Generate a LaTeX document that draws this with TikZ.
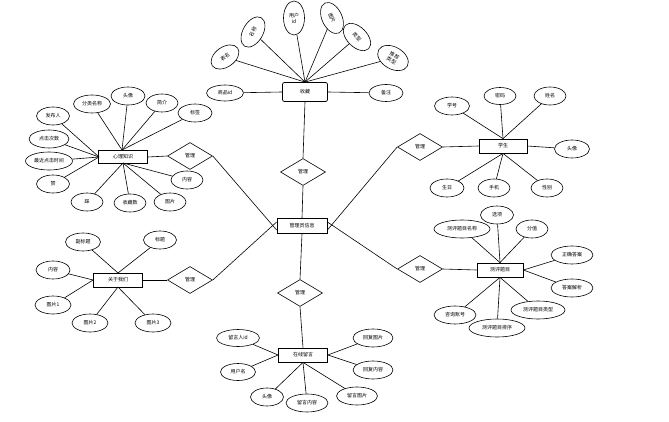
\documentclass[tikz,border=0pt]{standalone}
\usepackage{fontspec}
\newfontfamily\cjk{Noto Sans CJK SC}
\usetikzlibrary{shapes.geometric}
\begin{document}
\begin{tikzpicture}[x=1pt,y=-1pt,
  every node/.style={font=\cjk\fontsize{5}{6}\selectfont, inner sep=0pt},
  attr/.style={ellipse, draw, line width=0.6pt, minimum width=33, minimum height=18},
  ent/.style={rectangle, draw, line width=0.8pt, minimum width=48, minimum height=14},
  rel/.style={diamond, draw, line width=0.6pt, minimum width=45, minimum height=27, aspect=1.7},
  lk/.style={line width=0.6pt}]
\useasboundingbox (0,0) rectangle (669,422);
\fill[white] (0,0) rectangle (669,422);

% center
\node[ent, minimum width=50, minimum height=15] (c) at (302,226) {管理员信息};

% 收藏
\node[ent, rounded corners=2pt, minimum width=45, minimum height=19] (sc) at (305,92) {收藏};
\node[attr, minimum width=37, minimum height=16] (sc1) at (225,93) {商品id};
\node[attr, minimum width=34, minimum height=17] (sc2) at (386,93) {备注};
\node[attr, minimum width=31, minimum height=20, rotate=35] (sc3) at (225,57) {表名};
\node[attr, minimum width=33, minimum height=20, rotate=60] (sc4) at (253,32) {名称};
\node[attr, minimum width=21, minimum height=34, align=center] (sc5) at (294,18) {用户\\id};
\node[attr, minimum width=33, minimum height=20, rotate=-65] (sc6) at (332,18) {图片};
\node[attr, minimum width=33, minimum height=20, rotate=-45] (sc7) at (357,37) {类型};
\node[attr, minimum width=33, minimum height=22, rotate=-30, align=center] (sc8) at (393,58) {推荐\\类型};
\draw[lk] (sc1) -- (sc.west);
\draw[lk] (sc2) -- (sc.east);
\foreach \i in {3,...,8} \draw[lk] (sc\i) -- (sc.north);
\node[rel] (r1) at (303,172) {管理};
\draw[lk] (sc.south) -- (r1.north);
\draw[lk] (r1.south) -- (c.north);

% 心理知识
\node[ent, minimum width=49, minimum height=13] (xl) at (123,157) {心理知识};
\node[attr, minimum width=37] (xl1) at (92,104) {分类名称};
\node[attr, minimum width=34] (xl2) at (128,96) {头像};
\node[attr, minimum width=32] (xl3) at (162,103) {简介};
\node[attr, minimum width=34] (xl4) at (195,113) {标签};
\node[attr, minimum width=33] (xl5) at (53,116) {发布人};
\node[attr, minimum width=40] (xl6) at (49,139) {点击次数};
\node[attr, minimum width=47] (xl7) at (49,161) {最近点击时间};
\node[attr, minimum width=33] (xl8) at (53,184) {赞};
\node[attr, minimum width=32] (xl9) at (87,202) {踩};
\node[attr, minimum width=32] (xl10) at (130,203) {收藏数};
\node[attr, minimum width=32] (xl11) at (170,202) {图片};
\node[attr, minimum width=32] (xl12) at (187,180) {内容};
\coordinate (xlt) at (122,150);
\coordinate (xll) at (99,157);
\coordinate (xlb) at (123,163);
\foreach \i in {1,2,3,4} \draw[lk] (xl\i) -- (xlt);
\foreach \i in {5,6,7,8} \draw[lk] (xl\i) -- (xll);
\foreach \i in {9,10,11,12} \draw[lk] (xl\i) -- (xlb);
\node[rel] (r2) at (190,156) {管理};
\draw[lk] (xl.east) -- (r2.west);
\draw[lk] (r2.east) -- ([yshift=-4]c.west);

% 关于我们
\node[ent, minimum width=49] (gy) at (118,280) {关于我们};
\node[attr, minimum width=35] (gy1) at (83,242) {副标题};
\node[attr, minimum width=33] (gy2) at (160,240) {标题};
\node[attr, minimum width=34] (gy3) at (53,270) {内容};
\node[attr, minimum width=36] (gy4) at (53,305) {图片1};
\node[attr, minimum width=36] (gy5) at (90,323) {图片2};
\node[attr, minimum width=36] (gy6) at (153,323) {图片3};
\coordinate (gyt) at (118,273);
\coordinate (gyb) at (118,287);
\draw[lk] (gy1) -- (gyt);
\draw[lk] (gy2) -- (gyt);
\draw[lk] (gy3) -- (gy.west);
\draw[lk] (gy4) -- (gy.west);
\draw[lk] (gy5) -- (gyb);
\draw[lk] (gy6) -- (gyb);
\node[rel] (r3) at (190,280) {管理};
\draw[lk] (gy.east) -- (r3.west);
\draw[lk] (r3.east) -- ([yshift=4]c.west);

% 学生
\node[ent, minimum width=48] (xs) at (503,146) {学生};
\node[attr, minimum width=35] (xs1) at (452,106) {学号};
\node[attr, minimum width=32, minimum height=17] (xs2) at (500,96) {密码};
\node[attr, minimum width=32] (xs3) at (550,96) {姓名};
\node[attr, minimum width=35] (xs4) at (572,149) {头像};
\node[attr, minimum width=32] (xs5) at (547,188) {性别};
\node[attr, minimum width=32] (xs6) at (494,188) {手机};
\node[attr, minimum width=34] (xs7) at (447,188) {生日};
\foreach \i in {1,2,3} \draw[lk] (xs\i) -- (xs.north);
\draw[lk] (xs4) -- (xs.east);
\foreach \i in {5,6,7} \draw[lk] (xs\i) -- (xs.south);
\node[rel] (r4) at (420,147) {管理};
\draw[lk] (r4.east) -- (xs.west);
\draw[lk] (r4.west) -- ([yshift=-4]c.east);

% 测评题目
\node[ent, minimum width=46] (cp) at (500,270) {测评题目};
\node[attr, minimum width=56] (cp1) at (462,229) {测评题目名称};
\node[attr, minimum width=33] (cp2) at (497,215) {选项};
\node[attr, minimum width=32] (cp3) at (532,229) {分值};
\node[attr, minimum width=42] (cp4) at (572,255) {正确答案};
\node[attr, minimum width=42] (cp5) at (572,288) {答案解析};
\node[attr, minimum width=54] (cp6) at (538,310) {测评题目类型};
\node[attr, minimum width=56] (cp7) at (497,328) {测评题目排序};
\node[attr, minimum width=42] (cp8) at (455,315) {咨询账号};
\foreach \i in {1,2,3} \draw[lk] (cp\i) -- (cp.north);
\foreach \i in {4,5} \draw[lk] (cp\i) -- (cp.east);
\foreach \i in {6,7,8} \draw[lk] (cp\i) -- (cp.south);
\node[rel] (r5) at (420,269) {管理};
\draw[lk] (r5.east) -- (cp.west);
\draw[lk] (r5.west) -- ([yshift=4]c.east);

% 在线留言
\node[rel] (r6) at (300,293) {管理};
\draw[lk] (c.south) -- (r6.north);
\node[ent, minimum width=49] (ly) at (303,355) {在线留言};
\draw[lk] (r6.south) -- (ly.north);
\node[attr, minimum width=43, minimum height=17] (ly1) at (238,338) {留言人id};
\node[attr, minimum width=35, minimum height=17] (ly2) at (238,372) {用户名};
\node[attr, minimum width=33] (ly3) at (267,397) {头像};
\node[attr, minimum width=42] (ly4) at (307,403) {留言内容};
\node[attr, minimum width=41] (ly5) at (357,396) {留言图片};
\node[attr, minimum width=40] (ly6) at (373,370) {回复内容};
\node[attr, minimum width=40] (ly7) at (373,338) {回复图片};
\foreach \i in {1,2} \draw[lk] (ly\i) -- (ly.west);
\foreach \i in {3,4,5} \draw[lk] (ly\i) -- (ly.south);
\foreach \i in {6,7} \draw[lk] (ly\i) -- (ly.east);
\end{tikzpicture}
\end{document}
